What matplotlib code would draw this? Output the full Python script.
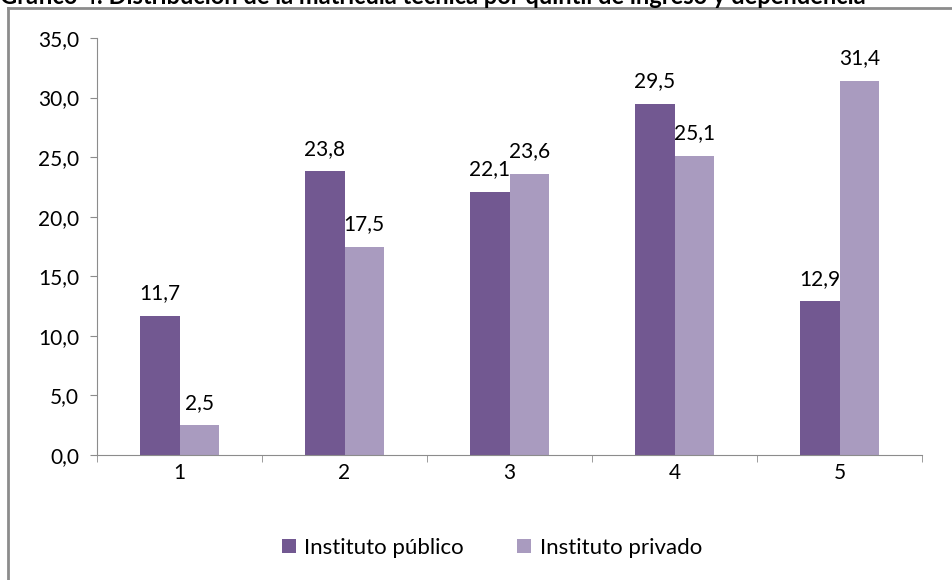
import matplotlib.pyplot as plt
import numpy as np
from matplotlib.lines import Line2D

plt.rcParams['font.family'] = ['Lato', 'DejaVu Sans']

quintiles = ['1', '2', '3', '4', '5']
publico = [11.7, 23.8, 22.1, 29.5, 12.9]
privado = [2.5, 17.5, 23.6, 25.1, 31.4]
series_names = ['Instituto público', 'Instituto privado']
title = 'Gráfico 4: Distribución de la matrícula técnica por quintil de ingreso y dependencia'

c_pub = '#725891'
c_priv = '#a99bbf'

fig = plt.figure(figsize=(9.52, 5.8), dpi=100)
ax = fig.add_axes([97 / 952, 1 - 455 / 580, 825 / 952, 417 / 580])

# marco gris (solo se ven el borde superior e izquierdo)
fx, fy = 8 / 952, 1 - 8 / 580
fig.lines.append(Line2D([fx, 1.0], [fy, fy], transform=fig.transFigure,
                        color='#8c8c8c', linewidth=2))
fig.lines.append(Line2D([fx, fx], [0.0, fy], transform=fig.transFigure,
                        color='#8c8c8c', linewidth=2))
# el título aparece recortado en la imagen original
fig.text(0.0, 1.0 + 4 / 580, title, ha='left', va='center', fontsize=17,
         fontweight='bold')

x = np.arange(len(quintiles))
w = 0.24
b1 = ax.bar(x - w / 2, publico, w, color=c_pub, label=series_names[0])
b2 = ax.bar(x + w / 2, privado, w, color=c_priv, label=series_names[1])

for bars in (b1, b2):
    for b in bars:
        v = b.get_height()
        ax.annotate(f'{v:.1f}'.replace('.', ','),
                    (b.get_x() + b.get_width() / 2, v),
                    xytext=(0, 9), textcoords='offset points',
                    ha='center', va='bottom', fontsize=15)

ax.set_xlim(-0.5, len(quintiles) - 0.5)
ax.set_ylim(0, 35)
ax.set_yticks(np.arange(0, 36, 5))
ax.set_yticklabels([f'{t:.1f}'.replace('.', ',') for t in np.arange(0, 36, 5)],
                   fontsize=15)
ax.set_xticks(x)
ax.set_xticklabels(quintiles, fontsize=15)
ax.set_xticks(np.arange(-0.5, len(quintiles), 1), minor=True)
ax.tick_params(axis='x', which='major', length=0, pad=6)
ax.tick_params(axis='x', which='minor', length=5, color='#8c8c8c')
ax.tick_params(axis='y', length=5, color='#8c8c8c', pad=8)

for s in ['top', 'right']:
    ax.spines[s].set_visible(False)
for s in ['left', 'bottom']:
    ax.spines[s].set_color('#8c8c8c')

fig.legend(handles=[b1, b2], loc='center', bbox_to_anchor=(492 / 952, 1 - 548 / 580),
           ncol=2, frameon=False, fontsize=16, handlelength=0.6, handleheight=0.6,
           columnspacing=2.4, handletextpad=0.4)

fig.savefig('out.png', dpi=100)
